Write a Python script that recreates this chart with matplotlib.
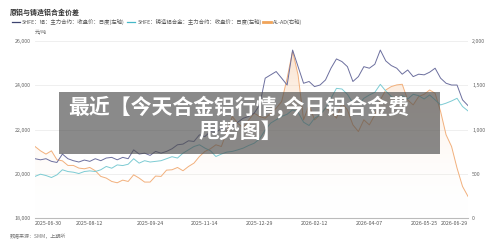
import numpy as np
import matplotlib
matplotlib.use("Agg")
import matplotlib.pyplot as plt
from matplotlib.patches import Rectangle
from matplotlib.lines import Line2D
from matplotlib.colors import LinearSegmentedColormap

plt.rcParams['font.family'] = ['Noto Sans CJK SC', 'DejaVu Sans']

title = "原铝与铸造铝合金价差"
legend_labels = ["SHFE：铝：主力合约：收盘价：日度(左轴)",
                 "SHFE：铸造铝合金：主力合约：收盘价：日度(左轴)",
                 "AL-AD(右轴)"]
source = "数据来源：SMM，上期所"
overlay_line1 = "最近【今天合金铝行情,今日铝合金费"
overlay_line2 = "甩势图】"

tick_idx = [0, 10, 21, 31, 41, 51, 61, 71, 79]
tick_labels = ["2025-06-30", "2025-08-12", "2025-09-24", "2025-11-14", "2025-12-29",
               "2026-02-12", "2026-04-07", "2026-05-25", "2026-06-29"]

al = [20680, 20630, 20680, 20560, 20510, 20890, 20680, 20590, 20530, 20620,
      20560, 20680, 20590, 20710, 20740, 20630, 20740, 20680, 21080, 20890,
      20930, 20830, 21010, 20930, 21010, 21130, 21310, 21340, 21490, 21460,
      21760, 21680, 21910, 21880, 22030, 22130, 22210, 22330, 22510, 22590,
      22740, 23110, 24320, 24470, 24620, 24320, 24010, 25590, 24840, 24090,
      24170, 23940, 24010, 24240, 24770, 25190, 25070, 24840, 24170, 24390,
      24840, 24770, 24950, 25590, 25100, 24890, 24770, 24500, 24690, 24390,
      24500, 24470, 24590, 24770, 24320, 24090, 24010, 24010, 23340, 23080]

ad = [19880, 19980, 19920, 19830, 19950, 20180, 20100, 20070, 20010, 20100,
      20130, 20100, 20180, 20330, 20250, 20400, 20370, 20430, 20680, 20480,
      20590, 20530, 20560, 20590, 20680, 20770, 20710, 20930, 21080, 21230,
      21310, 21160, 21040, 20780, 20890, 20980, 21010, 21080, 21160, 21280,
      21380, 21580, 21980, 22290, 22440, 22590, 22690, 22890, 22780, 22330,
      22180, 22510, 22660, 22960, 23410, 23860, 23830, 23590, 23190, 23110,
      23410, 23560, 23680, 24040, 23740, 23490, 23380, 23530, 23380, 23590,
      23530, 23380, 23560, 23340, 23110, 23190, 23290, 23410, 23040, 22840]

spread = [808, 759, 722, 759, 658, 646, 594, 594, 564, 556,
          571, 534, 470, 451, 413, 398, 428, 413, 488, 451,
          406, 406, 474, 470, 541, 545, 571, 534, 582, 620,
          695, 752, 782, 827, 808, 977, 1146, 1071, 1015, 1109,
          1184, 1146, 1128, 1184, 1240, 1316, 1579, 1887, 1616, 1109,
          1278, 1109, 1165, 1240, 1203, 1128, 1297, 1222, 1052, 977,
          1109, 1052, 1165, 1334, 1447, 1485, 1504, 1511, 1334, 1278,
          1372, 1398, 1447, 1409, 1203, 940, 808, 564, 357, 244]

W, H = 500, 247
fig = plt.figure(figsize=(W / 100, H / 100), dpi=100)
x0, x1, y0, y1 = 35, 468, 41, 218
ax2 = fig.add_axes([x0 / W, 1 - y1 / H, (x1 - x0) / W, (y1 - y0) / H])
ax = ax2.twinx()
ax.set_zorder(3)
ax.patch.set_visible(False)

x = np.arange(len(al))
ax2.set_xlim(0, len(al) - 1)
ax2.set_ylim(0, 2000)
poly = ax2.fill_between(x, spread, 0, color='none', lw=0)
grad = np.linspace(1, 0, 256).reshape(-1, 1)
cmap = LinearSegmentedColormap.from_list("g", [(1, 1, 1, 0.0), (0.97, 0.78, 0.62, 0.55)])
im = ax2.imshow(grad, extent=[0, len(al) - 1, 0, 2000], aspect='auto', cmap=cmap,
                origin='upper', zorder=1, vmin=0, vmax=1)
im.set_clip_path(poly.get_paths()[0], transform=ax2.transData)
ax2.plot(x, spread, color='#f2b07c', lw=0.7, zorder=2)
ax2.set_yticks([0, 500, 1000, 1500, 2000])
ax2.set_yticklabels(["0", "500", "1,000", "1,500", "2,000"])
ax2.yaxis.tick_right()
ax2.grid(axis='y', color='#ececec', lw=0.6)
ax2.set_axisbelow(True)
ax2.set_xticks(tick_idx)
ax2.set_xticklabels(tick_labels)

ax.set_ylim(18000, 26000)
ax.plot(x, al, color='#6c6f9e', lw=0.7)
ax.plot(x, ad, color='#7ccbd3', lw=0.7)
ax.set_yticks([18000, 20000, 22000, 24000, 26000])
ax.set_yticklabels(["18,000", "20,000", "22,000", "24,000", "26,000"])
ax.yaxis.tick_left()
ax.tick_params(axis='x', labelbottom=False, bottom=False)

for a in (ax, ax2):
    for s in a.spines.values():
        s.set_visible(False)
    a.tick_params(axis='y', length=0, labelsize=3.8, labelcolor='#666666', pad=3)
ax2.tick_params(axis='x', length=0, labelsize=3.8, labelcolor='#555555', pad=2)
ax2.spines['bottom'].set_visible(True)
ax2.spines['bottom'].set_color('#bbbbbb')
ax2.spines['bottom'].set_linewidth(0.8)
lbls = ax2.get_xticklabels()
lbls[0].set_ha('left')
lbls[-1].set_ha('right')

# titles and legend
fig.text(10 / W, 1 - 12 / H, title, fontsize=5, fontweight='bold', color='#333333', va='center')
ly = 1 - 22 / H
items = [(12, 22, legend_labels[0], '#3d4470', 'line'),
         (127, 138, legend_labels[1], '#45b8c8', 'line'),
         (263, 273, legend_labels[2], '#f0a45a', 'bar')]
for mx, tx, lab, col, kind in items:
    lw = 0.9 if kind == 'line' else 2.0
    fig.add_artist(Line2D([mx / W, (mx + 8) / W], [ly, ly], color=col, lw=lw))
    fig.text(tx / W, ly, lab, fontsize=3.9, color='#555555', va='center')
fig.text(35 / W, 1 - 32 / H, "元/吨", fontsize=3.6, color='#666666', va='center')
fig.text(10 / W, 1 - 237 / H, source, fontsize=3.6, color='#777777', va='center', style='italic')

# overlay banner
fig.add_artist(Rectangle((59 / W, 1 - 154 / H), (440 - 59) / W, (154 - 92) / H,
                         transform=fig.transFigure, facecolor=(0.3, 0.3, 0.3),
                         alpha=0.66, edgecolor='none', zorder=10))
fig.text(239 / W, 1 - 107 / H, overlay_line1, fontsize=15, fontweight='heavy',
         color='white', ha='center', va='center', zorder=11)
fig.text(240 / W, 1 - 131 / H, overlay_line2, fontsize=15, fontweight='heavy',
         color='white', ha='center', va='center', zorder=11)

fig.savefig("out.png", dpi=100)
